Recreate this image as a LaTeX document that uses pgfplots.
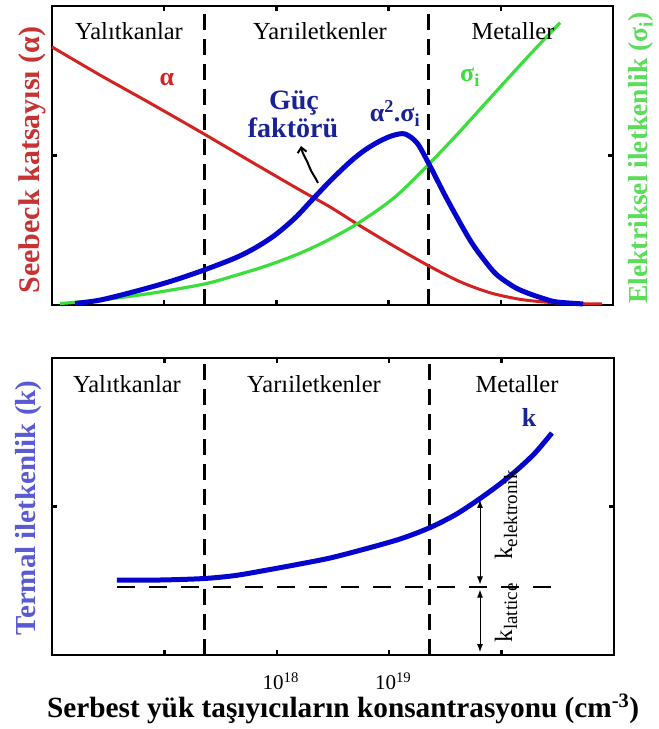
\documentclass[border=0pt]{standalone}
\usepackage{pgfplots}
\pgfplotsset{compat=1.18}
\usepackage{fontspec}
\setmainfont{Liberation Serif}
\usetikzlibrary{arrows.meta}

\definecolor{cred}{RGB}{212,34,34}
\definecolor{cgreen}{RGB}{60,222,60}
\definecolor{cblue}{RGB}{5,5,205}
\definecolor{lred}{RGB}{200,50,50}
\definecolor{lgreen}{RGB}{90,222,90}
\definecolor{lblue}{RGB}{90,90,210}
\definecolor{dblue}{RGB}{25,35,150}

\pgfplotsset{
  panel/.style={
    scale only axis,
    xmin=16, xmax=21, ymin=0, ymax=2,
    xtick={17,18,19,20}, ytick={1}, yticklabels={},
    tick align=inside, major tick length=5pt, tick pos=both,
    axis line style={line width=2.8pt},
    every tick/.style={black, line width=2.5pt},
    clip=false,
  },
}

\begin{document}
\begin{tikzpicture}[x=1pt,y=1pt]
\useasboundingbox (0pt,0pt) rectangle (659pt,729pt);

% ---------------- top panel ----------------
\begin{axis}[panel, at={(52pt,424pt)}, anchor=south west, width=561pt, height=299pt,
  xticklabels={},
  every axis y label/.style={at={(axis description cs:-0.0214,0.485)}, rotate=90, anchor=base,
     text=lred, font=\fontsize{30}{31}\selectfont\bfseries},
  ylabel={Seebeck katsayısı (α)},
]
% region boundaries
\addplot[black, line width=3pt, dash pattern=on 16pt off 9pt] coordinates {(17.355,0) (17.355,2)};
\addplot[black, line width=3pt, dash pattern=on 16pt off 9pt] coordinates {(19.360,0) (19.360,2)};
% Seebeck coefficient
\addplot[cred, line width=3pt, smooth] coordinates {
 (16.000,1.726) (16.428,1.538) (16.873,1.351) (17.355,1.144) (17.765,0.963)
 (18.210,0.769) (18.478,0.656) (18.745,0.530) (19.057,0.390) (19.360,0.261)
 (19.636,0.156) (19.904,0.082) (20.171,0.038) (20.439,0.017) (20.706,0.009) (20.902,0.007)};
% electrical conductivity
\addplot[cgreen, line width=3.2pt, smooth] coordinates {
 (16.071,0.010) (16.428,0.033) (16.873,0.077) (17.355,0.140) (17.631,0.197)
 (17.916,0.263) (18.210,0.346) (18.478,0.441) (18.745,0.555) (19.057,0.722)
 (19.360,0.943) (19.610,1.140) (19.877,1.361) (20.144,1.581) (20.349,1.747) (20.528,1.888)};
% power factor
\addplot[cblue, line width=5pt, smooth] coordinates {
 (16.205,0.010) (16.428,0.033) (16.722,0.087) (17.052,0.157) (17.355,0.234)
 (17.631,0.314) (17.809,0.381) (17.988,0.468) (18.166,0.582) (18.317,0.702)
 (18.478,0.829) (18.656,0.957) (18.790,1.037) (18.923,1.097) (19.039,1.134)
 (19.146,1.144) (19.253,1.084) (19.360,0.943) (19.520,0.709) (19.725,0.435)
 (19.859,0.294) (19.966,0.201) (20.127,0.117) (20.260,0.074) (20.394,0.040)
 (20.501,0.020) (20.733,0.007)};
\node[rotate=90, anchor=base, text=lgreen, font=\fontsize{27.5}{30}\selectfont\bfseries]
  at (axis description cs:1.062,0.492) {Elektriksel iletkenlik (σ\textsubscript{i})};
\end{axis}

% ---------------- bottom panel ----------------
\begin{axis}[panel, at={(52pt,74pt)}, anchor=south west, width=562pt, height=297pt,
  xticklabels={,{10\textsuperscript{18}},{10\textsuperscript{19}},},
  xticklabel style={font=\fontsize{21}{22}\selectfont, yshift=-14pt, xshift=4pt},
  every axis y label/.style={at={(axis description cs:-0.0285,0.495)}, rotate=90, anchor=base,
     text=lblue, font=\fontsize{29}{30}\selectfont\bfseries},
  ylabel={Termal iletkenlik (k)},
  every axis x label/.style={at={(axis description cs:0.518,0)}, anchor=base, yshift=-62pt,
     font=\fontsize{29.3}{31}\selectfont\bfseries},
  xlabel={Serbest yük taşıyıcıların konsantrasyonu (cm\textsuperscript{-3})},
]
\addplot[black, line width=3pt, dash pattern=on 16pt off 9pt] coordinates {(17.355,0) (17.355,2)};
\addplot[black, line width=3pt, dash pattern=on 16pt off 9pt] coordinates {(19.360,0) (19.360,2)};
% lattice level
\addplot[black, line width=2.6pt, dash pattern=on 18pt off 14pt] coordinates {(16.579,0.458) (20.440,0.458)};
% thermal conductivity
\addplot[cblue, line width=5pt, smooth] coordinates {
 (16.578,0.505) (16.961,0.505) (17.352,0.515) (17.628,0.535) (17.913,0.572)
 (18.206,0.613) (18.473,0.653) (18.785,0.714) (19.096,0.781) (19.354,0.855)
 (19.585,0.943) (19.790,1.044) (19.986,1.152) (20.137,1.246) (20.297,1.360) (20.448,1.495)};
\draw[{Latex[length=8pt,width=6pt]}-{Latex[length=8pt,width=6pt]}, line width=0.9pt]
  (axis cs:19.808,1.044) -- (axis cs:19.808,0.475);
\draw[{Latex[length=8pt,width=6pt]}-{Latex[length=8pt,width=6pt]}, line width=0.9pt]
  (axis cs:19.808,0.440) -- (axis cs:19.808,0.02);
\end{axis}

% ---------------- annotations (image px -> y = 729 - py) ----------------
\begin{scope}[font=\fontsize{24.5}{26}\selectfont]
  \node[anchor=base] at (129pt,689pt) {Yalıtkanlar};
  \node[anchor=base] at (320pt,689pt) {Yarıiletkenler};
  \node[anchor=base] at (513pt,689pt) {Metaller};
  \node[anchor=base] at (127pt,336pt) {Yalıtkanlar};
  \node[anchor=base] at (314pt,336pt) {Yarıiletkenler};
  \node[anchor=base] at (517pt,336pt) {Metaller};
\end{scope}
\node[anchor=base, text=cred, font=\fontsize{26}{28}\selectfont\bfseries] at (167pt,643pt) {α};
\node[anchor=base, text=cgreen, font=\fontsize{26}{28}\selectfont\bfseries] at (470pt,647pt) {σ\textsubscript{i}};
\node[anchor=base, text=dblue, font=\fontsize{26}{28}\selectfont\bfseries] at (395pt,607pt) {α\textsuperscript{2}.σ\textsubscript{i}};
\node[anchor=base, text=dblue, font=\fontsize{28}{30}\selectfont\bfseries] at (294pt,619pt) {Güç};
\node[anchor=base, text=dblue, font=\fontsize{28}{30}\selectfont\bfseries] at (293pt,591pt) {faktörü};
\draw[line width=2pt, -{Straight Barb[length=5pt,width=9pt]}]
  (318pt,546pt) to[out=115,in=-70] (309pt,563pt) to[out=110,in=-80] (301pt,583pt);
\node[anchor=base, text=dblue, font=\fontsize{26}{28}\selectfont\bfseries] at (529pt,302pt) {k};
\node[rotate=90, anchor=base, inner sep=0pt] at (512pt,214pt)
  {\fontsize{25}{26}\selectfont k\raisebox{-5pt}{\fontsize{19}{20}\selectfont elektronik}};
\node[rotate=90, anchor=base, inner sep=0pt] at (512pt,116pt)
  {\fontsize{25}{26}\selectfont k\raisebox{-5pt}{\fontsize{19}{20}\selectfont lattice}};
\end{tikzpicture}
\end{document}
